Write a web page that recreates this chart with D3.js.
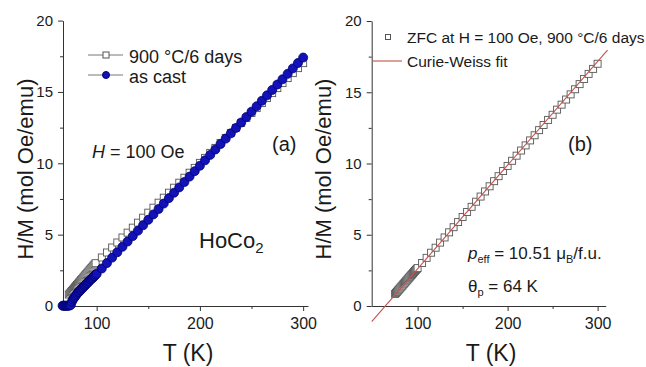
<!DOCTYPE html>
<html lang="en">
<head>
<meta charset="UTF-8">
<title>HoCo2 H/M vs T</title>
<style>
  body { margin: 0; background: #fff; }
  svg { display: block; font-family: "Liberation Sans", Arial, Helvetica, sans-serif; }
</style>
</head>
<body>
<script src="https://d3js.org/d3.v7.min.js"></script>
<script>

    // (a) as cast, H = 100 Oe
    var castT = [67, 68, 69, 70, 71, 72, 73, 74, 75, 76, 77, 78, 79, 80, 81, 82, 83, 84, 85, 86, 87, 88, 89, 90,
        91, 92, 93, 94, 95, 96, 97, 98, 99, 100, 105, 110, 115, 120, 125, 130, 135, 140, 145, 150, 155, 160,
        165, 170, 175, 180, 185, 190, 195, 200, 205, 210, 215, 220, 225, 230, 235, 240, 245, 250, 255, 260,
        265, 270, 275, 280, 285, 290, 295, 300];
    var castHM = [0.02, 0.02, 0.02, 0.02, 0.02, 0.02, 0.03, 0.04, 0.08, 0.3, 0.45, 0.55, 0.65, 0.75, 0.85, 0.95,
        1.0, 1.1, 1.15, 1.25, 1.3, 1.4, 1.45, 1.55, 1.6, 1.7, 1.75, 1.85, 1.9, 1.95, 2.05, 2.1, 2.2, 2.25,
        2.63, 3.01, 3.39, 3.77, 4.15, 4.52, 4.9, 5.28, 5.66, 6.04, 6.42, 6.8, 7.18, 7.56, 7.94, 8.31, 8.69,
        9.07, 9.45, 9.83, 10.21, 10.59, 10.97, 11.35, 11.73, 12.1, 12.48, 12.86, 13.24, 13.62, 14.0, 14.38,
        14.76, 15.14, 15.52, 15.89, 16.27, 16.65, 17.03, 17.41];

    // (a) 900 C / 6 days
    var annealT = [73, 74, 75, 76, 77, 78, 79, 80, 81, 82, 83, 84, 85, 86, 87, 88, 89, 90, 91, 92, 93, 94, 95,
        96, 97, 98, 99, 105, 110, 115, 120, 125, 130, 135, 140, 145, 150, 155, 160, 165, 170, 175, 180, 185,
        190, 195, 200, 205, 210, 215, 220, 225, 230, 235, 240, 245, 250, 255, 260, 265, 270, 275, 280, 285,
        290, 295, 300];
    var annealHM = [0.8, 0.88, 0.97, 1.05, 1.14, 1.22, 1.31, 1.39, 1.48, 1.56, 1.65, 1.73, 1.82, 1.9, 1.99, 2.07,
        2.16, 2.24, 2.33, 2.41, 2.5, 2.58, 2.67, 2.75, 2.84, 2.92, 3.0, 3.4, 3.75, 4.1, 4.45, 4.8, 5.14, 5.49,
        5.84, 6.19, 6.54, 6.89, 7.24, 7.59, 7.94, 8.29, 8.64, 8.99, 9.34, 9.68, 10.03, 10.38, 10.73, 11.08,
        11.43, 11.78, 12.13, 12.48, 12.83, 13.18, 13.53, 13.87, 14.22, 14.57, 14.92, 15.27, 15.62, 15.97,
        16.32, 16.67, 17.02];

    // (b) ZFC, 900 C / 6 days
    var zfcT = [75, 76, 77, 78, 79, 80, 81, 82, 83, 84, 85, 86, 87, 88, 89, 90, 91, 92, 93, 94, 95, 96, 97, 98,
        99, 100, 105, 110, 115, 120, 125, 130, 135, 140, 145, 150, 155, 160, 165, 170, 175, 180, 185, 190,
        195, 200, 205, 210, 215, 220, 225, 230, 235, 240, 245, 250, 255, 260, 265, 270, 275, 280, 285, 290,
        295, 300];
    var zfcHM = [0.85, 0.92, 0.99, 1.07, 1.14, 1.21, 1.29, 1.36, 1.43, 1.51, 1.58, 1.65, 1.73, 1.8, 1.87, 1.95,
        2.02, 2.09, 2.17, 2.24, 2.31, 2.39, 2.46, 2.53, 2.6, 2.66, 3.02, 3.38, 3.74, 4.09, 4.45, 4.81, 5.17,
        5.53, 5.89, 6.25, 6.6, 6.96, 7.32, 7.68, 8.04, 8.4, 8.76, 9.11, 9.47, 9.83, 10.19, 10.55, 10.91,
        11.27, 11.62, 11.98, 12.34, 12.7, 13.06, 13.42, 13.78, 14.13, 14.49, 14.85, 15.21, 15.57, 15.93,
        16.29, 16.64, 17.0];

    // Curie-Weiss fit line end points
    var fitT = [49, 311];
    var fitHM = [-1.1, 17.95];

    var xTicks = [100, 200, 300],
        xMinor = [150, 250],
        yTicks = [0, 5, 10, 15, 20],
        yMinor = [2.5, 7.5, 12.5, 17.5];

    var width = 646,
        height = 367,
        y0px = 306;

    var ink = "#1a1a1a",
        sqStroke = "#555",
        blue = "#1212b8",
        blueEdge = "#00006e",
        fitColor = "#c4524a";

    function pairs(t, v) {
        return t.map(function (d, i) { return {t: d, v: v[i]}; });
    }

    var svg = d3.select("body")
        .append("svg")
        .attr("width", width)
        .attr("height", height);

    var xa = d3.scaleLinear().domain([67.4, 304.7]).range([63, 308]);
    var ya = d3.scaleLinear().domain([0, 20]).range([y0px, 20.6]);
    var xb = d3.scaleLinear().domain([49, 309]).range([371.7, 605.7]);
    var yb = d3.scaleLinear().domain([0, 20]).range([y0px, 21]);

    function axes(x, y) {
        var gx = svg.append("g")
            .attr("transform", "translate(0," + y(0) + ")")
            .call(d3.axisBottom(x).tickValues(xTicks).tickSize(5).tickSizeOuter(0).tickFormat(d3.format("d")));
        gx.attr("font-family", null).attr("font-size", null);
        gx.selectAll("text").attr("y", 23).attr("dy", 0).attr("font-size", "16px").attr("fill", ink);

        var gxm = svg.append("g")
            .attr("transform", "translate(0," + y(0) + ")")
            .call(d3.axisBottom(x).tickValues(xMinor).tickSize(3).tickFormat(""));
        gxm.select(".domain").remove();

        var gy = svg.append("g")
            .attr("transform", "translate(" + x.range()[0] + ",0)")
            .call(d3.axisLeft(y).tickValues(yTicks).tickSize(5).tickPadding(5).tickSizeOuter(0));
        gy.attr("font-family", null).attr("font-size", null);
        gy.selectAll("text").attr("font-size", "15px").attr("fill", ink);

        var gym = svg.append("g")
            .attr("transform", "translate(" + x.range()[0] + ",0)")
            .call(d3.axisLeft(y).tickValues(yMinor).tickSize(3).tickFormat(""));
        gym.select(".domain").remove();

        svg.selectAll(".domain, .tick line").attr("stroke", "#333");
    }

    function squares(g, data, x, y, s) {
        g.selectAll(null)
            .data(data)
            .enter()
            .append("rect")
            .attr("x", function (d) { return x(d.t) - s / 2; })
            .attr("y", function (d) { return y(d.v) - s / 2; })
            .attr("width", s)
            .attr("height", s)
            .attr("fill", "#fff")
            .attr("stroke", sqStroke)
            .attr("stroke-width", 0.9);
    }

    function circles(g, data, x, y, r) {
        g.selectAll(null)
            .data(data)
            .enter()
            .append("circle")
            .attr("cx", function (d) { return x(d.t); })
            .attr("cy", function (d) { return y(d.v); })
            .attr("r", r)
            .attr("fill", blue)
            .attr("stroke", blueEdge)
            .attr("stroke-width", 0.8);
    }

    function label(x, y, size, txt, anchor) {
        return svg.append("text")
            .attr("x", x)
            .attr("y", y)
            .attr("font-size", size + "px")
            .attr("fill", ink)
            .attr("text-anchor", anchor || "start")
            .text(txt);
    }

    // ---------- panel (a)
    axes(xa, ya);

    var anneal = pairs(annealT, annealHM),
        cast = pairs(castT, castHM);

    var lineA = d3.line().x(function (d) { return xa(d.t); }).y(function (d) { return ya(d.v); });
    var ga = svg.append("g");
    ga.append("path").attr("d", lineA(anneal)).attr("fill", "none").attr("stroke", "#777").attr("stroke-width", 1);
    squares(ga, anneal, xa, ya, 7);
    ga.append("path").attr("d", lineA(cast)).attr("fill", "none").attr("stroke", "#777").attr("stroke-width", 1);
    circles(ga, cast, xa, ya, 4.5);

    // legend (a)
    svg.append("line").attr("x1", 88).attr("x2", 123).attr("y1", 55).attr("y2", 55).attr("stroke", "#777");
    svg.append("rect").attr("x", 103).attr("y", 52).attr("width", 6).attr("height", 6)
        .attr("fill", "#fff").attr("stroke", sqStroke);
    label(129, 63, 18, "900 °C/6 days");
    svg.append("line").attr("x1", 88).attr("x2", 123).attr("y1", 75).attr("y2", 75).attr("stroke", "#777");
    svg.append("circle").attr("cx", 106).attr("cy", 75).attr("r", 3.5).attr("fill", blue).attr("stroke", blueEdge);
    label(129, 83, 18, "as cast");

    var hTxt = label(92, 158, 18, "");
    hTxt.append("tspan").attr("font-style", "italic").text("H");
    hTxt.append("tspan").text(" = 100 Oe");

    label(272, 151, 20, "(a)");

    var hoco = label(199, 248, 22, "HoCo");
    hoco.append("tspan").attr("font-size", "15px").attr("dy", 5).text("2");

    label(33, 169, 22, "H/M (mol Oe/emu)", "middle").attr("transform", "rotate(-90,33,169)")
        .attr("x", 33).attr("y", 169);
    label(188, 361, 23, "T (K)", "middle");

    // ---------- panel (b)
    axes(xb, yb);

    var gb = svg.append("g");
    squares(gb, pairs(zfcT, zfcHM), xb, yb, 7);

    var fit = pairs(fitT, fitHM);
    gb.append("path")
        .attr("d", d3.line().x(function (d) { return xb(d.t); }).y(function (d) { return yb(d.v); })(fit))
        .attr("fill", "none")
        .attr("stroke", fitColor)
        .attr("stroke-width", 1.1);

    // legend (b)
    svg.append("rect").attr("x", 385.5).attr("y", 34.5).attr("width", 5).attr("height", 5)
        .attr("fill", "#fff").attr("stroke", sqStroke);
    label(407, 43, 15.5, "ZFC at H = 100 Oe, 900 °C/6 days");
    svg.append("line").attr("x1", 373).attr("x2", 402).attr("y1", 61).attr("y2", 61)
        .attr("stroke", fitColor).attr("stroke-width", 1.1);
    label(407, 67, 15.5, "Curie-Weiss fit");

    label(568, 151, 20, "(b)");

    var peff = label(468, 259, 17, "");
    peff.append("tspan").attr("font-style", "italic").text("p");
    peff.append("tspan").attr("font-size", "11px").attr("dy", 4).text("eff");
    peff.append("tspan").attr("dy", -4).text(" = 10.51 μ");
    peff.append("tspan").attr("font-size", "11px").attr("dy", 4).text("B");
    peff.append("tspan").attr("dy", -4).text("/f.u.");

    var theta = label(468, 292, 17, "θ");
    theta.append("tspan").attr("font-size", "11px").attr("dy", 4).text("p");
    theta.append("tspan").attr("dy", -4).text(" = 64 K");

    label(331, 169, 22, "H/M (mol Oe/emu)", "middle").attr("transform", "rotate(-90,331,169)");
    label(491, 361, 23, "T (K)", "middle");

</script>
</body>
</html>
